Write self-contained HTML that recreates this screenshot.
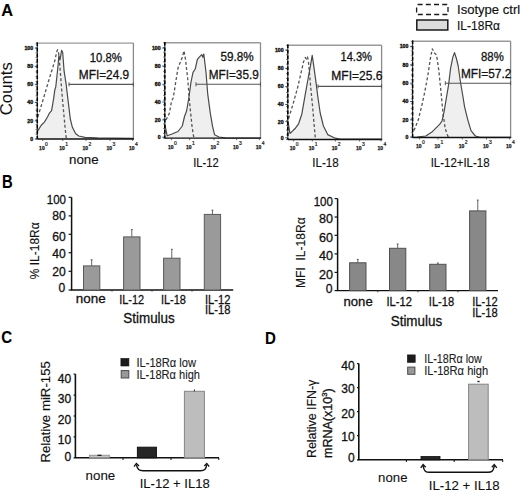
<!DOCTYPE html>
<html><head><meta charset="utf-8"><style>
html,body{margin:0;padding:0;background:#fff;}
svg{display:block;}
text{font-family:"Liberation Sans", sans-serif;stroke:#111;stroke-width:0.3px;}
</style></head><body>
<svg width="520" height="491" viewBox="0 0 520 491" font-family='"Liberation Sans", sans-serif'>
<rect width="520" height="491" fill="#fff"/>
<text x="1.2" y="16.3" font-size="17.3" font-weight="bold" fill="#000" textLength="11.8" lengthAdjust="spacingAndGlyphs" style="stroke-width:0.1px">A</text>
<text x="12.4" y="115.2" font-size="17" transform="rotate(-90 12.4 115.2)" fill="#111" style="stroke:none" textLength="53" lengthAdjust="spacingAndGlyphs">Counts</text>
<polygon points="37.5,131 38.1,130.4 41.2,125.2 44.4,122.1 47.5,117 49.6,112.8 51.6,110.7 53.7,98.2 54.8,89.9 55.8,86.8 57.9,67 58.9,55.6 60,59.8 61.6,50.4 62.7,52.5 64.1,71.2 66.2,84.7 68.3,102.4 70.3,119 72.4,127.3 75.5,133.6 78.7,136 84.9,137.3 97.4,137.9 133,138.3 133,139.0 37.5,139.0" fill="#efefef" stroke="none"/>
<line x1="37.3" y1="43.1" x2="133.4" y2="43.1" stroke="#9a9a9a" stroke-width="1.4" />
<line x1="133.4" y1="43.1" x2="133.4" y2="139.0" stroke="#8a8a8a" stroke-width="1.3" />
<polyline points="37.8,117 38.1,115.9 42.3,102.4 47.5,84.7 51.6,71.2 54.8,60.8 56.8,51.5 57.6,49.8 58.4,51 60,68 62,94 64.1,117 65.8,134.6 66.4,139" fill="none" stroke="#555" stroke-width="1.3" stroke-dasharray="3 2.2" stroke-linejoin="round"/>
<polyline points="37.5,131 38.1,130.4 41.2,125.2 44.4,122.1 47.5,117 49.6,112.8 51.6,110.7 53.7,98.2 54.8,89.9 55.8,86.8 57.9,67 58.9,55.6 60,59.8 61.6,50.4 62.7,52.5 64.1,71.2 66.2,84.7 68.3,102.4 70.3,119 72.4,127.3 75.5,133.6 78.7,136 84.9,137.3 97.4,137.9 133,138.3" fill="none" stroke="#4a4a4a" stroke-width="1.2" stroke-linejoin="round"/>
<line x1="37.3" y1="42.4" x2="37.3" y2="139.0" stroke="#333" stroke-width="1.1" />
<line x1="37.3" y1="42.4" x2="37.3" y2="139.0" stroke="#000" stroke-width="1.5" stroke-dasharray="3.5 2"/>
<line x1="37.3" y1="139.0" x2="134.0" y2="139.0" stroke="#111" stroke-width="1.3" />
<line x1="35.5" y1="43.1" x2="37.3" y2="43.1" stroke="#333" stroke-width="0.6" />
<line x1="35.5" y1="47.895" x2="37.3" y2="47.895" stroke="#333" stroke-width="0.6" />
<line x1="35.5" y1="52.69" x2="37.3" y2="52.69" stroke="#333" stroke-width="0.6" />
<line x1="35.5" y1="57.485" x2="37.3" y2="57.485" stroke="#333" stroke-width="0.6" />
<line x1="35.5" y1="62.28" x2="37.3" y2="62.28" stroke="#333" stroke-width="0.6" />
<line x1="35.5" y1="67.075" x2="37.3" y2="67.075" stroke="#333" stroke-width="0.6" />
<line x1="35.5" y1="71.87" x2="37.3" y2="71.87" stroke="#333" stroke-width="0.6" />
<line x1="35.5" y1="76.665" x2="37.3" y2="76.665" stroke="#333" stroke-width="0.6" />
<line x1="35.5" y1="81.46000000000001" x2="37.3" y2="81.46000000000001" stroke="#333" stroke-width="0.6" />
<line x1="35.5" y1="86.255" x2="37.3" y2="86.255" stroke="#333" stroke-width="0.6" />
<line x1="35.5" y1="91.05000000000001" x2="37.3" y2="91.05000000000001" stroke="#333" stroke-width="0.6" />
<line x1="35.5" y1="95.845" x2="37.3" y2="95.845" stroke="#333" stroke-width="0.6" />
<line x1="35.5" y1="100.64000000000001" x2="37.3" y2="100.64000000000001" stroke="#333" stroke-width="0.6" />
<line x1="35.5" y1="105.435" x2="37.3" y2="105.435" stroke="#333" stroke-width="0.6" />
<line x1="35.5" y1="110.23000000000002" x2="37.3" y2="110.23000000000002" stroke="#333" stroke-width="0.6" />
<line x1="35.5" y1="115.025" x2="37.3" y2="115.025" stroke="#333" stroke-width="0.6" />
<line x1="35.5" y1="119.82" x2="37.3" y2="119.82" stroke="#333" stroke-width="0.6" />
<line x1="35.5" y1="124.61500000000001" x2="37.3" y2="124.61500000000001" stroke="#333" stroke-width="0.6" />
<line x1="35.5" y1="129.41" x2="37.3" y2="129.41" stroke="#333" stroke-width="0.6" />
<line x1="35.5" y1="134.205" x2="37.3" y2="134.205" stroke="#333" stroke-width="0.6" />
<line x1="35.5" y1="139.0" x2="37.3" y2="139.0" stroke="#333" stroke-width="0.6" />
<line x1="34.8" y1="48.1" x2="37.3" y2="48.1" stroke="#222" stroke-width="0.8" />
<text x="33.099999999999994" y="49.9" font-size="5.2" text-anchor="end" font-weight="bold" fill="#222" style="stroke-width:0.35px">100</text>
<line x1="34.8" y1="66.3" x2="37.3" y2="66.3" stroke="#222" stroke-width="0.8" />
<text x="33.099999999999994" y="68.1" font-size="5.2" text-anchor="end" font-weight="bold" fill="#222" style="stroke-width:0.35px">80</text>
<line x1="34.8" y1="84.4" x2="37.3" y2="84.4" stroke="#222" stroke-width="0.8" />
<text x="33.099999999999994" y="86.2" font-size="5.2" text-anchor="end" font-weight="bold" fill="#222" style="stroke-width:0.35px">60</text>
<line x1="34.8" y1="102.5" x2="37.3" y2="102.5" stroke="#222" stroke-width="0.8" />
<text x="33.099999999999994" y="104.3" font-size="5.2" text-anchor="end" font-weight="bold" fill="#222" style="stroke-width:0.35px">40</text>
<line x1="34.8" y1="120.8" x2="37.3" y2="120.8" stroke="#222" stroke-width="0.8" />
<text x="33.099999999999994" y="122.6" font-size="5.2" text-anchor="end" font-weight="bold" fill="#222" style="stroke-width:0.35px">20</text>
<line x1="34.8" y1="139.0" x2="37.3" y2="139.0" stroke="#222" stroke-width="0.8" />
<text x="33.099999999999994" y="140.8" font-size="5.2" text-anchor="end" font-weight="bold" fill="#222" style="stroke-width:0.35px">0</text>
<line x1="42.7" y1="139.0" x2="42.7" y2="141.0" stroke="#333" stroke-width="0.7" />
<line x1="62.8" y1="139.0" x2="62.8" y2="141.0" stroke="#333" stroke-width="0.7" />
<line x1="86" y1="139.0" x2="86" y2="141.0" stroke="#333" stroke-width="0.7" />
<line x1="110" y1="139.0" x2="110" y2="141.0" stroke="#333" stroke-width="0.7" />
<line x1="132.6" y1="139.0" x2="132.6" y2="141.0" stroke="#333" stroke-width="0.7" />
<text x="39.1" y="149.8" font-size="5.4" font-weight="bold" fill="#222" textLength="5.6" lengthAdjust="spacingAndGlyphs" style="stroke-width:0.25px">10</text>
<text x="45.1" y="145.8" font-size="5" fill="#222" style="stroke-width:0.2px">0</text>
<text x="59.199999999999996" y="149.8" font-size="5.4" font-weight="bold" fill="#222" textLength="5.6" lengthAdjust="spacingAndGlyphs" style="stroke-width:0.25px">10</text>
<text x="65.2" y="145.8" font-size="5" fill="#222" style="stroke-width:0.2px">1</text>
<text x="82.4" y="149.8" font-size="5.4" font-weight="bold" fill="#222" textLength="5.6" lengthAdjust="spacingAndGlyphs" style="stroke-width:0.25px">10</text>
<text x="88.4" y="145.8" font-size="5" fill="#222" style="stroke-width:0.2px">2</text>
<text x="106.4" y="149.8" font-size="5.4" font-weight="bold" fill="#222" textLength="5.6" lengthAdjust="spacingAndGlyphs" style="stroke-width:0.25px">10</text>
<text x="112.4" y="145.8" font-size="5" fill="#222" style="stroke-width:0.2px">3</text>
<text x="129.0" y="149.8" font-size="5.4" font-weight="bold" fill="#222" textLength="5.6" lengthAdjust="spacingAndGlyphs" style="stroke-width:0.25px">10</text>
<text x="135.0" y="145.8" font-size="5" fill="#222" style="stroke-width:0.2px">4</text>
<line x1="69" y1="84.4" x2="133.4" y2="84.4" stroke="#555" stroke-width="1.1" />
<line x1="69" y1="82.4" x2="69" y2="86.4" stroke="#555" stroke-width="1.0" />
<line x1="133.4" y1="82.4" x2="133.4" y2="86.4" stroke="#555" stroke-width="1.0" />
<text x="89.8" y="61.5" font-size="12.8" fill="#111" textLength="32.1" lengthAdjust="spacingAndGlyphs" >10.8%</text>
<text x="78.8" y="78.8" font-size="12.8" fill="#111" textLength="50.4" lengthAdjust="spacingAndGlyphs" >MFI=24.9</text>
<text x="69" y="164.1" font-size="13.5" fill="#111" textLength="29.7" lengthAdjust="spacingAndGlyphs" style="stroke-width:0.15px">none</text>
<polygon points="165,125 167.2,135.8 172,134 178,131.5 182.3,126 184.5,116.5 186.6,111 188.8,98 191,82 193,72.3 195.2,69 197.4,59.4 199.5,56.8 201.7,54.6 202.8,57.2 203.8,54 206,72.3 207.7,93.8 210.3,113.2 212.5,126.2 214.6,134.8 219,137 225,137.9 260.5,138 260.5,138.2 165,138.2" fill="#efefef" stroke="none"/>
<line x1="164.8" y1="42.7" x2="260.5" y2="42.7" stroke="#9a9a9a" stroke-width="1.4" />
<line x1="260.5" y1="42.7" x2="260.5" y2="138.2" stroke="#8a8a8a" stroke-width="1.3" />
<polyline points="166,120 169.4,113.2 171.5,101.4 173.3,97.7 175.4,84.2 178,68 180.2,62.6 182.3,57.2 184,50.8 185.5,59.4 187.7,78.8 189.8,104.6 192,126.2 193.5,135.8 194,138" fill="none" stroke="#555" stroke-width="1.3" stroke-dasharray="3 2.2" stroke-linejoin="round"/>
<polyline points="165,125 167.2,135.8 172,134 178,131.5 182.3,126 184.5,116.5 186.6,111 188.8,98 191,82 193,72.3 195.2,69 197.4,59.4 199.5,56.8 201.7,54.6 202.8,57.2 203.8,54 206,72.3 207.7,93.8 210.3,113.2 212.5,126.2 214.6,134.8 219,137 225,137.9 260.5,138" fill="none" stroke="#4a4a4a" stroke-width="1.2" stroke-linejoin="round"/>
<line x1="164.8" y1="42.0" x2="164.8" y2="138.2" stroke="#333" stroke-width="1.1" />
<line x1="164.8" y1="42.0" x2="164.8" y2="138.2" stroke="#000" stroke-width="1.5" stroke-dasharray="3.5 2"/>
<line x1="164.8" y1="138.2" x2="261.1" y2="138.2" stroke="#111" stroke-width="1.3" />
<line x1="163.0" y1="42.7" x2="164.8" y2="42.7" stroke="#333" stroke-width="0.6" />
<line x1="163.0" y1="47.475" x2="164.8" y2="47.475" stroke="#333" stroke-width="0.6" />
<line x1="163.0" y1="52.25" x2="164.8" y2="52.25" stroke="#333" stroke-width="0.6" />
<line x1="163.0" y1="57.025" x2="164.8" y2="57.025" stroke="#333" stroke-width="0.6" />
<line x1="163.0" y1="61.8" x2="164.8" y2="61.8" stroke="#333" stroke-width="0.6" />
<line x1="163.0" y1="66.575" x2="164.8" y2="66.575" stroke="#333" stroke-width="0.6" />
<line x1="163.0" y1="71.35" x2="164.8" y2="71.35" stroke="#333" stroke-width="0.6" />
<line x1="163.0" y1="76.125" x2="164.8" y2="76.125" stroke="#333" stroke-width="0.6" />
<line x1="163.0" y1="80.9" x2="164.8" y2="80.9" stroke="#333" stroke-width="0.6" />
<line x1="163.0" y1="85.675" x2="164.8" y2="85.675" stroke="#333" stroke-width="0.6" />
<line x1="163.0" y1="90.44999999999999" x2="164.8" y2="90.44999999999999" stroke="#333" stroke-width="0.6" />
<line x1="163.0" y1="95.225" x2="164.8" y2="95.225" stroke="#333" stroke-width="0.6" />
<line x1="163.0" y1="100.0" x2="164.8" y2="100.0" stroke="#333" stroke-width="0.6" />
<line x1="163.0" y1="104.77499999999999" x2="164.8" y2="104.77499999999999" stroke="#333" stroke-width="0.6" />
<line x1="163.0" y1="109.55" x2="164.8" y2="109.55" stroke="#333" stroke-width="0.6" />
<line x1="163.0" y1="114.32499999999999" x2="164.8" y2="114.32499999999999" stroke="#333" stroke-width="0.6" />
<line x1="163.0" y1="119.1" x2="164.8" y2="119.1" stroke="#333" stroke-width="0.6" />
<line x1="163.0" y1="123.87499999999999" x2="164.8" y2="123.87499999999999" stroke="#333" stroke-width="0.6" />
<line x1="163.0" y1="128.64999999999998" x2="164.8" y2="128.64999999999998" stroke="#333" stroke-width="0.6" />
<line x1="163.0" y1="133.425" x2="164.8" y2="133.425" stroke="#333" stroke-width="0.6" />
<line x1="163.0" y1="138.2" x2="164.8" y2="138.2" stroke="#333" stroke-width="0.6" />
<line x1="162.3" y1="48.1" x2="164.8" y2="48.1" stroke="#222" stroke-width="0.8" />
<text x="160.60000000000002" y="49.9" font-size="5.2" text-anchor="end" font-weight="bold" fill="#222" style="stroke-width:0.35px">100</text>
<line x1="162.3" y1="66.1" x2="164.8" y2="66.1" stroke="#222" stroke-width="0.8" />
<text x="160.60000000000002" y="67.89999999999999" font-size="5.2" text-anchor="end" font-weight="bold" fill="#222" style="stroke-width:0.35px">80</text>
<line x1="162.3" y1="84.3" x2="164.8" y2="84.3" stroke="#222" stroke-width="0.8" />
<text x="160.60000000000002" y="86.1" font-size="5.2" text-anchor="end" font-weight="bold" fill="#222" style="stroke-width:0.35px">60</text>
<line x1="162.3" y1="102" x2="164.8" y2="102" stroke="#222" stroke-width="0.8" />
<text x="160.60000000000002" y="103.8" font-size="5.2" text-anchor="end" font-weight="bold" fill="#222" style="stroke-width:0.35px">40</text>
<line x1="162.3" y1="119.9" x2="164.8" y2="119.9" stroke="#222" stroke-width="0.8" />
<text x="160.60000000000002" y="121.7" font-size="5.2" text-anchor="end" font-weight="bold" fill="#222" style="stroke-width:0.35px">20</text>
<line x1="162.3" y1="137.2" x2="164.8" y2="137.2" stroke="#222" stroke-width="0.8" />
<text x="160.60000000000002" y="139.0" font-size="5.2" text-anchor="end" font-weight="bold" fill="#222" style="stroke-width:0.35px">0</text>
<line x1="171.6" y1="138.2" x2="171.6" y2="140.2" stroke="#333" stroke-width="0.7" />
<line x1="189.6" y1="138.2" x2="189.6" y2="140.2" stroke="#333" stroke-width="0.7" />
<line x1="214" y1="138.2" x2="214" y2="140.2" stroke="#333" stroke-width="0.7" />
<line x1="236.6" y1="138.2" x2="236.6" y2="140.2" stroke="#333" stroke-width="0.7" />
<line x1="259.4" y1="138.2" x2="259.4" y2="140.2" stroke="#333" stroke-width="0.7" />
<text x="168.0" y="149.0" font-size="5.4" font-weight="bold" fill="#222" textLength="5.6" lengthAdjust="spacingAndGlyphs" style="stroke-width:0.25px">10</text>
<text x="174.0" y="145.0" font-size="5" fill="#222" style="stroke-width:0.2px">0</text>
<text x="186.0" y="149.0" font-size="5.4" font-weight="bold" fill="#222" textLength="5.6" lengthAdjust="spacingAndGlyphs" style="stroke-width:0.25px">10</text>
<text x="192.0" y="145.0" font-size="5" fill="#222" style="stroke-width:0.2px">1</text>
<text x="210.4" y="149.0" font-size="5.4" font-weight="bold" fill="#222" textLength="5.6" lengthAdjust="spacingAndGlyphs" style="stroke-width:0.25px">10</text>
<text x="216.4" y="145.0" font-size="5" fill="#222" style="stroke-width:0.2px">2</text>
<text x="233.0" y="149.0" font-size="5.4" font-weight="bold" fill="#222" textLength="5.6" lengthAdjust="spacingAndGlyphs" style="stroke-width:0.25px">10</text>
<text x="239.0" y="145.0" font-size="5" fill="#222" style="stroke-width:0.2px">3</text>
<text x="255.79999999999998" y="149.0" font-size="5.4" font-weight="bold" fill="#222" textLength="5.6" lengthAdjust="spacingAndGlyphs" style="stroke-width:0.25px">10</text>
<text x="261.79999999999995" y="145.0" font-size="5" fill="#222" style="stroke-width:0.2px">4</text>
<line x1="196" y1="84.3" x2="260.5" y2="84.3" stroke="#555" stroke-width="1.1" />
<line x1="196" y1="82.3" x2="196" y2="86.3" stroke="#555" stroke-width="1.0" />
<line x1="260.5" y1="82.3" x2="260.5" y2="86.3" stroke="#555" stroke-width="1.0" />
<text x="220.5" y="61.25" font-size="12.8" fill="#111" textLength="33.2" lengthAdjust="spacingAndGlyphs" >59.8%</text>
<text x="208.75" y="78.75" font-size="12.8" fill="#111" textLength="50" lengthAdjust="spacingAndGlyphs" >MFI=35.9</text>
<text x="193.2" y="166.6" font-size="12.6" fill="#111" textLength="25.5" lengthAdjust="spacingAndGlyphs" style="stroke-width:0.15px">IL-12</text>
<polygon points="288,121.7 290,133.5 293.2,130.3 295.4,128.2 298.6,123.8 301.8,114.2 305,95.8 308.3,77.5 310.5,65.7 312.2,55.4 313.7,65.7 315.8,80.8 318,98 320.2,113 323.4,126 327.7,134.6 334.2,137.8 340,139 381.6,139.2 381.6,139.5 288,139.5" fill="#efefef" stroke="none"/>
<line x1="287.8" y1="45.3" x2="381.6" y2="45.3" stroke="#9a9a9a" stroke-width="1.4" />
<line x1="381.6" y1="45.3" x2="381.6" y2="139.5" stroke="#8a8a8a" stroke-width="1.3" />
<polyline points="288.6,118.5 293.2,103.5 297.5,88 300.8,74 303.5,62 305.3,57.5 306.4,59 307.5,56.8 308.5,62 310.5,85 312.6,106.6 314.8,132.5 315.4,139" fill="none" stroke="#555" stroke-width="1.3" stroke-dasharray="3 2.2" stroke-linejoin="round"/>
<polyline points="288,121.7 290,133.5 293.2,130.3 295.4,128.2 298.6,123.8 301.8,114.2 305,95.8 308.3,77.5 310.5,65.7 312.2,55.4 313.7,65.7 315.8,80.8 318,98 320.2,113 323.4,126 327.7,134.6 334.2,137.8 340,139 381.6,139.2" fill="none" stroke="#4a4a4a" stroke-width="1.2" stroke-linejoin="round"/>
<line x1="287.8" y1="44.599999999999994" x2="287.8" y2="139.5" stroke="#333" stroke-width="1.1" />
<line x1="287.8" y1="44.599999999999994" x2="287.8" y2="139.5" stroke="#000" stroke-width="1.5" stroke-dasharray="3.5 2"/>
<line x1="287.8" y1="139.5" x2="382.20000000000005" y2="139.5" stroke="#111" stroke-width="1.3" />
<line x1="286.0" y1="45.3" x2="287.8" y2="45.3" stroke="#333" stroke-width="0.6" />
<line x1="286.0" y1="50.01" x2="287.8" y2="50.01" stroke="#333" stroke-width="0.6" />
<line x1="286.0" y1="54.72" x2="287.8" y2="54.72" stroke="#333" stroke-width="0.6" />
<line x1="286.0" y1="59.43" x2="287.8" y2="59.43" stroke="#333" stroke-width="0.6" />
<line x1="286.0" y1="64.14" x2="287.8" y2="64.14" stroke="#333" stroke-width="0.6" />
<line x1="286.0" y1="68.85" x2="287.8" y2="68.85" stroke="#333" stroke-width="0.6" />
<line x1="286.0" y1="73.56" x2="287.8" y2="73.56" stroke="#333" stroke-width="0.6" />
<line x1="286.0" y1="78.27" x2="287.8" y2="78.27" stroke="#333" stroke-width="0.6" />
<line x1="286.0" y1="82.97999999999999" x2="287.8" y2="82.97999999999999" stroke="#333" stroke-width="0.6" />
<line x1="286.0" y1="87.69" x2="287.8" y2="87.69" stroke="#333" stroke-width="0.6" />
<line x1="286.0" y1="92.4" x2="287.8" y2="92.4" stroke="#333" stroke-width="0.6" />
<line x1="286.0" y1="97.11" x2="287.8" y2="97.11" stroke="#333" stroke-width="0.6" />
<line x1="286.0" y1="101.82" x2="287.8" y2="101.82" stroke="#333" stroke-width="0.6" />
<line x1="286.0" y1="106.53" x2="287.8" y2="106.53" stroke="#333" stroke-width="0.6" />
<line x1="286.0" y1="111.24" x2="287.8" y2="111.24" stroke="#333" stroke-width="0.6" />
<line x1="286.0" y1="115.95" x2="287.8" y2="115.95" stroke="#333" stroke-width="0.6" />
<line x1="286.0" y1="120.66" x2="287.8" y2="120.66" stroke="#333" stroke-width="0.6" />
<line x1="286.0" y1="125.37" x2="287.8" y2="125.37" stroke="#333" stroke-width="0.6" />
<line x1="286.0" y1="130.07999999999998" x2="287.8" y2="130.07999999999998" stroke="#333" stroke-width="0.6" />
<line x1="286.0" y1="134.79" x2="287.8" y2="134.79" stroke="#333" stroke-width="0.6" />
<line x1="286.0" y1="139.5" x2="287.8" y2="139.5" stroke="#333" stroke-width="0.6" />
<line x1="285.3" y1="50.2" x2="287.8" y2="50.2" stroke="#222" stroke-width="0.8" />
<text x="283.6" y="52.0" font-size="5.2" text-anchor="end" font-weight="bold" fill="#222" style="stroke-width:0.35px">100</text>
<line x1="285.3" y1="68.3" x2="287.8" y2="68.3" stroke="#222" stroke-width="0.8" />
<text x="283.6" y="70.1" font-size="5.2" text-anchor="end" font-weight="bold" fill="#222" style="stroke-width:0.35px">80</text>
<line x1="285.3" y1="86.6" x2="287.8" y2="86.6" stroke="#222" stroke-width="0.8" />
<text x="283.6" y="88.39999999999999" font-size="5.2" text-anchor="end" font-weight="bold" fill="#222" style="stroke-width:0.35px">60</text>
<line x1="285.3" y1="104.5" x2="287.8" y2="104.5" stroke="#222" stroke-width="0.8" />
<text x="283.6" y="106.3" font-size="5.2" text-anchor="end" font-weight="bold" fill="#222" style="stroke-width:0.35px">40</text>
<line x1="285.3" y1="121.7" x2="287.8" y2="121.7" stroke="#222" stroke-width="0.8" />
<text x="283.6" y="123.5" font-size="5.2" text-anchor="end" font-weight="bold" fill="#222" style="stroke-width:0.35px">20</text>
<line x1="285.3" y1="137.8" x2="287.8" y2="137.8" stroke="#222" stroke-width="0.8" />
<text x="283.6" y="139.60000000000002" font-size="5.2" text-anchor="end" font-weight="bold" fill="#222" style="stroke-width:0.35px">0</text>
<line x1="293.4" y1="139.5" x2="293.4" y2="141.5" stroke="#333" stroke-width="0.7" />
<line x1="312.3" y1="139.5" x2="312.3" y2="141.5" stroke="#333" stroke-width="0.7" />
<line x1="335.4" y1="139.5" x2="335.4" y2="141.5" stroke="#333" stroke-width="0.7" />
<line x1="359.6" y1="139.5" x2="359.6" y2="141.5" stroke="#333" stroke-width="0.7" />
<line x1="381" y1="139.5" x2="381" y2="141.5" stroke="#333" stroke-width="0.7" />
<text x="289.79999999999995" y="150.3" font-size="5.4" font-weight="bold" fill="#222" textLength="5.6" lengthAdjust="spacingAndGlyphs" style="stroke-width:0.25px">10</text>
<text x="295.79999999999995" y="146.3" font-size="5" fill="#222" style="stroke-width:0.2px">0</text>
<text x="308.7" y="150.3" font-size="5.4" font-weight="bold" fill="#222" textLength="5.6" lengthAdjust="spacingAndGlyphs" style="stroke-width:0.25px">10</text>
<text x="314.7" y="146.3" font-size="5" fill="#222" style="stroke-width:0.2px">1</text>
<text x="331.79999999999995" y="150.3" font-size="5.4" font-weight="bold" fill="#222" textLength="5.6" lengthAdjust="spacingAndGlyphs" style="stroke-width:0.25px">10</text>
<text x="337.79999999999995" y="146.3" font-size="5" fill="#222" style="stroke-width:0.2px">2</text>
<text x="356.0" y="150.3" font-size="5.4" font-weight="bold" fill="#222" textLength="5.6" lengthAdjust="spacingAndGlyphs" style="stroke-width:0.25px">10</text>
<text x="362.0" y="146.3" font-size="5" fill="#222" style="stroke-width:0.2px">3</text>
<text x="377.4" y="150.3" font-size="5.4" font-weight="bold" fill="#222" textLength="5.6" lengthAdjust="spacingAndGlyphs" style="stroke-width:0.25px">10</text>
<text x="383.4" y="146.3" font-size="5" fill="#222" style="stroke-width:0.2px">4</text>
<line x1="318" y1="86.4" x2="381.6" y2="86.4" stroke="#555" stroke-width="1.1" />
<line x1="318" y1="84.4" x2="318" y2="88.4" stroke="#555" stroke-width="1.0" />
<line x1="381.6" y1="84.4" x2="381.6" y2="88.4" stroke="#555" stroke-width="1.0" />
<text x="340.5" y="61.25" font-size="12.8" fill="#111" textLength="31.5" lengthAdjust="spacingAndGlyphs" >14.3%</text>
<text x="331.25" y="80" font-size="12.8" fill="#111" textLength="51.2" lengthAdjust="spacingAndGlyphs" >MFI=25.6</text>
<text x="312.3" y="166.8" font-size="12.6" fill="#111" textLength="26.5" lengthAdjust="spacingAndGlyphs" style="stroke-width:0.15px">IL-18</text>
<polygon points="412.6,137.3 417.2,137 425.8,136 432.3,131.7 436.6,127.4 439.8,124.2 442,121 444.2,111.2 446.3,98.3 448.5,85.4 450.6,68.2 452.8,57.4 454.5,52.6 456.4,58.5 458.2,66 460.3,81 462.5,94 464.6,106.9 467.8,119.8 471,130.6 475.4,136 480,137.3 510.5,137.3 510.5,137.5 412.6,137.5" fill="#efefef" stroke="none"/>
<line x1="412.6" y1="41.3" x2="510.6" y2="41.3" stroke="#9a9a9a" stroke-width="1.4" />
<line x1="510.6" y1="41.3" x2="510.6" y2="137.5" stroke="#8a8a8a" stroke-width="1.3" />
<polyline points="414,130.6 418.3,119.8 421.5,106.9 424.8,91.8 428,74.6 430.2,59.5 432.3,48.8 434.5,53 436.6,55.2 438.8,70.3 441,91.8 443,113.4 445.2,128.5 447.4,135 448.5,137.3" fill="none" stroke="#555" stroke-width="1.3" stroke-dasharray="3 2.2" stroke-linejoin="round"/>
<polyline points="412.6,137.3 417.2,137 425.8,136 432.3,131.7 436.6,127.4 439.8,124.2 442,121 444.2,111.2 446.3,98.3 448.5,85.4 450.6,68.2 452.8,57.4 454.5,52.6 456.4,58.5 458.2,66 460.3,81 462.5,94 464.6,106.9 467.8,119.8 471,130.6 475.4,136 480,137.3 510.5,137.3" fill="none" stroke="#4a4a4a" stroke-width="1.2" stroke-linejoin="round"/>
<line x1="412.6" y1="40.599999999999994" x2="412.6" y2="137.5" stroke="#333" stroke-width="1.1" />
<line x1="412.6" y1="40.599999999999994" x2="412.6" y2="137.5" stroke="#000" stroke-width="1.5" stroke-dasharray="3.5 2"/>
<line x1="412.6" y1="137.5" x2="511.20000000000005" y2="137.5" stroke="#111" stroke-width="1.3" />
<line x1="410.8" y1="41.3" x2="412.6" y2="41.3" stroke="#333" stroke-width="0.6" />
<line x1="410.8" y1="46.11" x2="412.6" y2="46.11" stroke="#333" stroke-width="0.6" />
<line x1="410.8" y1="50.92" x2="412.6" y2="50.92" stroke="#333" stroke-width="0.6" />
<line x1="410.8" y1="55.73" x2="412.6" y2="55.73" stroke="#333" stroke-width="0.6" />
<line x1="410.8" y1="60.54" x2="412.6" y2="60.54" stroke="#333" stroke-width="0.6" />
<line x1="410.8" y1="65.35" x2="412.6" y2="65.35" stroke="#333" stroke-width="0.6" />
<line x1="410.8" y1="70.16" x2="412.6" y2="70.16" stroke="#333" stroke-width="0.6" />
<line x1="410.8" y1="74.97" x2="412.6" y2="74.97" stroke="#333" stroke-width="0.6" />
<line x1="410.8" y1="79.78" x2="412.6" y2="79.78" stroke="#333" stroke-width="0.6" />
<line x1="410.8" y1="84.59" x2="412.6" y2="84.59" stroke="#333" stroke-width="0.6" />
<line x1="410.8" y1="89.4" x2="412.6" y2="89.4" stroke="#333" stroke-width="0.6" />
<line x1="410.8" y1="94.21000000000001" x2="412.6" y2="94.21000000000001" stroke="#333" stroke-width="0.6" />
<line x1="410.8" y1="99.02000000000001" x2="412.6" y2="99.02000000000001" stroke="#333" stroke-width="0.6" />
<line x1="410.8" y1="103.83000000000001" x2="412.6" y2="103.83000000000001" stroke="#333" stroke-width="0.6" />
<line x1="410.8" y1="108.64" x2="412.6" y2="108.64" stroke="#333" stroke-width="0.6" />
<line x1="410.8" y1="113.45" x2="412.6" y2="113.45" stroke="#333" stroke-width="0.6" />
<line x1="410.8" y1="118.26" x2="412.6" y2="118.26" stroke="#333" stroke-width="0.6" />
<line x1="410.8" y1="123.07000000000001" x2="412.6" y2="123.07000000000001" stroke="#333" stroke-width="0.6" />
<line x1="410.8" y1="127.88000000000001" x2="412.6" y2="127.88000000000001" stroke="#333" stroke-width="0.6" />
<line x1="410.8" y1="132.69" x2="412.6" y2="132.69" stroke="#333" stroke-width="0.6" />
<line x1="410.8" y1="137.5" x2="412.6" y2="137.5" stroke="#333" stroke-width="0.6" />
<line x1="410.1" y1="46.6" x2="412.6" y2="46.6" stroke="#222" stroke-width="0.8" />
<text x="408.40000000000003" y="48.4" font-size="5.2" text-anchor="end" font-weight="bold" fill="#222" style="stroke-width:0.35px">100</text>
<line x1="410.1" y1="64.9" x2="412.6" y2="64.9" stroke="#222" stroke-width="0.8" />
<text x="408.40000000000003" y="66.7" font-size="5.2" text-anchor="end" font-weight="bold" fill="#222" style="stroke-width:0.35px">80</text>
<line x1="410.1" y1="83.2" x2="412.6" y2="83.2" stroke="#222" stroke-width="0.8" />
<text x="408.40000000000003" y="85.0" font-size="5.2" text-anchor="end" font-weight="bold" fill="#222" style="stroke-width:0.35px">60</text>
<line x1="410.1" y1="101.5" x2="412.6" y2="101.5" stroke="#222" stroke-width="0.8" />
<text x="408.40000000000003" y="103.3" font-size="5.2" text-anchor="end" font-weight="bold" fill="#222" style="stroke-width:0.35px">40</text>
<line x1="410.1" y1="119.8" x2="412.6" y2="119.8" stroke="#222" stroke-width="0.8" />
<text x="408.40000000000003" y="121.6" font-size="5.2" text-anchor="end" font-weight="bold" fill="#222" style="stroke-width:0.35px">20</text>
<line x1="410.1" y1="137.0" x2="412.6" y2="137.0" stroke="#222" stroke-width="0.8" />
<text x="408.40000000000003" y="138.8" font-size="5.2" text-anchor="end" font-weight="bold" fill="#222" style="stroke-width:0.35px">0</text>
<line x1="419.6" y1="137.5" x2="419.6" y2="139.5" stroke="#333" stroke-width="0.7" />
<line x1="438" y1="137.5" x2="438" y2="139.5" stroke="#333" stroke-width="0.7" />
<line x1="462.3" y1="137.5" x2="462.3" y2="139.5" stroke="#333" stroke-width="0.7" />
<line x1="486.5" y1="137.5" x2="486.5" y2="139.5" stroke="#333" stroke-width="0.7" />
<line x1="509.6" y1="137.5" x2="509.6" y2="139.5" stroke="#333" stroke-width="0.7" />
<text x="416.0" y="148.3" font-size="5.4" font-weight="bold" fill="#222" textLength="5.6" lengthAdjust="spacingAndGlyphs" style="stroke-width:0.25px">10</text>
<text x="422.0" y="144.3" font-size="5" fill="#222" style="stroke-width:0.2px">0</text>
<text x="434.4" y="148.3" font-size="5.4" font-weight="bold" fill="#222" textLength="5.6" lengthAdjust="spacingAndGlyphs" style="stroke-width:0.25px">10</text>
<text x="440.4" y="144.3" font-size="5" fill="#222" style="stroke-width:0.2px">1</text>
<text x="458.7" y="148.3" font-size="5.4" font-weight="bold" fill="#222" textLength="5.6" lengthAdjust="spacingAndGlyphs" style="stroke-width:0.25px">10</text>
<text x="464.7" y="144.3" font-size="5" fill="#222" style="stroke-width:0.2px">2</text>
<text x="482.9" y="148.3" font-size="5.4" font-weight="bold" fill="#222" textLength="5.6" lengthAdjust="spacingAndGlyphs" style="stroke-width:0.25px">10</text>
<text x="488.9" y="144.3" font-size="5" fill="#222" style="stroke-width:0.2px">3</text>
<text x="506.0" y="148.3" font-size="5.4" font-weight="bold" fill="#222" textLength="5.6" lengthAdjust="spacingAndGlyphs" style="stroke-width:0.25px">10</text>
<text x="512.0" y="144.3" font-size="5" fill="#222" style="stroke-width:0.2px">4</text>
<line x1="445.3" y1="83.2" x2="510.6" y2="83.2" stroke="#555" stroke-width="1.1" />
<line x1="445.3" y1="81.2" x2="445.3" y2="85.2" stroke="#555" stroke-width="1.0" />
<line x1="510.6" y1="81.2" x2="510.6" y2="85.2" stroke="#555" stroke-width="1.0" />
<text x="481" y="60.6" font-size="12.8" fill="#111" textLength="22.75" lengthAdjust="spacingAndGlyphs" >88%</text>
<text x="461" y="77.75" font-size="12.8" fill="#111" textLength="50.25" lengthAdjust="spacingAndGlyphs" >MFI=57.2</text>
<text x="430.7" y="166.9" font-size="12.6" fill="#111" textLength="58.8" lengthAdjust="spacingAndGlyphs" style="stroke-width:0.15px">IL-12+IL-18</text>
<rect x="416.6" y="4.5" width="31.4" height="10" fill="none" stroke="#1a1a1a" stroke-width="1.3" stroke-dasharray="5 3.2" stroke-dashoffset="-1"/>
<rect x="416.8" y="20" width="31" height="10" fill="#dcdcdc" stroke="#1a1a1a" stroke-width="1.5"/>
<text x="457" y="14.4" font-size="12.5" fill="#111" textLength="63.2" lengthAdjust="spacingAndGlyphs" style="stroke-width:0.15px">Isotype ctrl</text>
<text x="457" y="30.3" font-size="12.5" fill="#111" textLength="43" lengthAdjust="spacingAndGlyphs" style="stroke-width:0.15px">IL-18R&#945;</text>
<text x="1.9" y="187.7" font-size="17.5" font-weight="bold" fill="#000" textLength="10.7" lengthAdjust="spacingAndGlyphs" style="stroke-width:0.1px">B</text>
<line x1="71.6" y1="197.3" x2="71.6" y2="290" stroke="#111" stroke-width="1.5" />
<line x1="70.8" y1="290" x2="233.2" y2="290" stroke="#111" stroke-width="1.4" />
<line x1="68.6" y1="197.3" x2="71.6" y2="197.3" stroke="#111" stroke-width="1.2" />
<line x1="68.6" y1="215.9" x2="71.6" y2="215.9" stroke="#111" stroke-width="1.2" />
<line x1="68.6" y1="234.3" x2="71.6" y2="234.3" stroke="#111" stroke-width="1.2" />
<line x1="68.6" y1="252.7" x2="71.6" y2="252.7" stroke="#111" stroke-width="1.2" />
<line x1="68.6" y1="271.3" x2="71.6" y2="271.3" stroke="#111" stroke-width="1.2" />
<line x1="68.6" y1="290" x2="71.6" y2="290" stroke="#111" stroke-width="1.2" />
<line x1="91.65" y1="259.8" x2="91.65" y2="265.9" stroke="#555" stroke-width="0.9" />
<line x1="90.75" y1="259.8" x2="92.55000000000001" y2="259.8" stroke="#555" stroke-width="1" />
<rect x="83.5" y="265.9" width="16.3" height="24.100000000000023" fill="#9a9a9a" stroke="#5a5a5a" stroke-width="1"/>
<line x1="131.79999999999998" y1="229.6" x2="131.79999999999998" y2="236.9" stroke="#555" stroke-width="0.9" />
<line x1="130.89999999999998" y1="229.6" x2="132.7" y2="229.6" stroke="#555" stroke-width="1" />
<rect x="123.6" y="236.9" width="16.4" height="53.099999999999994" fill="#9a9a9a" stroke="#5a5a5a" stroke-width="1"/>
<line x1="171.79999999999998" y1="249.3" x2="171.79999999999998" y2="258.2" stroke="#555" stroke-width="0.9" />
<line x1="170.89999999999998" y1="249.3" x2="172.7" y2="249.3" stroke="#555" stroke-width="1" />
<rect x="163.6" y="258.2" width="16.4" height="31.80000000000001" fill="#9a9a9a" stroke="#5a5a5a" stroke-width="1"/>
<line x1="212.45000000000002" y1="210.2" x2="212.45000000000002" y2="214.4" stroke="#555" stroke-width="0.9" />
<line x1="211.55" y1="210.2" x2="213.35000000000002" y2="210.2" stroke="#555" stroke-width="1" />
<rect x="204.3" y="214.4" width="16.3" height="75.6" fill="#9a9a9a" stroke="#5a5a5a" stroke-width="1"/>
<text x="66" y="204.4" font-size="12.5" text-anchor="end" fill="#111" textLength="19.2" lengthAdjust="spacingAndGlyphs" >100</text>
<text x="65.8" y="219.9" font-size="12.5" text-anchor="end" fill="#111" textLength="13.5" lengthAdjust="spacingAndGlyphs" >80</text>
<text x="65.8" y="241.3" font-size="12.5" text-anchor="end" fill="#111" textLength="13.5" lengthAdjust="spacingAndGlyphs" >60</text>
<text x="65.8" y="257.9" font-size="12.5" text-anchor="end" fill="#111" textLength="13.5" lengthAdjust="spacingAndGlyphs" >40</text>
<text x="65.8" y="276" font-size="12.5" text-anchor="end" fill="#111" textLength="13.5" lengthAdjust="spacingAndGlyphs" >20</text>
<text x="65.2" y="291.6" font-size="12.5" text-anchor="end" fill="#111" textLength="6.7" lengthAdjust="spacingAndGlyphs" >0</text>
<text x="75.8" y="303.2" font-size="12.8" fill="#111" textLength="29.9" lengthAdjust="spacingAndGlyphs" >none</text>
<text x="119.2" y="303.5" font-size="12.8" fill="#111" textLength="25" lengthAdjust="spacingAndGlyphs" >IL-12</text>
<text x="160.9" y="303.5" font-size="12.8" fill="#111" textLength="25.1" lengthAdjust="spacingAndGlyphs" >IL-18</text>
<text x="205" y="303.5" font-size="12.8" fill="#111" textLength="25.5" lengthAdjust="spacingAndGlyphs" >IL-12</text>
<text x="205" y="313.8" font-size="12.8" fill="#111" textLength="25.5" lengthAdjust="spacingAndGlyphs" >IL-18</text>
<text x="123.3" y="323.2" font-size="14.3" fill="#111" textLength="51.5" lengthAdjust="spacingAndGlyphs" >Stimulus</text>
<text x="38.6" y="279.3" font-size="12.6" transform="rotate(-90 38.6 279.3)" style="stroke-width:0.15px" fill="#111" textLength="57" lengthAdjust="spacingAndGlyphs">% IL-18R&#945;</text>
<line x1="112" y1="290" x2="112" y2="291.6" stroke="#333" stroke-width="1" />
<line x1="152" y1="290" x2="152" y2="291.6" stroke="#333" stroke-width="1" />
<line x1="192" y1="290" x2="192" y2="291.6" stroke="#333" stroke-width="1" />
<line x1="337.6" y1="198.6" x2="337.6" y2="290.6" stroke="#111" stroke-width="1.5" />
<line x1="336.8" y1="290.6" x2="498" y2="290.6" stroke="#111" stroke-width="1.4" />
<line x1="334.6" y1="198.6" x2="337.6" y2="198.6" stroke="#111" stroke-width="1.2" />
<line x1="334.6" y1="217" x2="337.6" y2="217" stroke="#111" stroke-width="1.2" />
<line x1="334.6" y1="235.3" x2="337.6" y2="235.3" stroke="#111" stroke-width="1.2" />
<line x1="334.6" y1="253.9" x2="337.6" y2="253.9" stroke="#111" stroke-width="1.2" />
<line x1="334.6" y1="272.4" x2="337.6" y2="272.4" stroke="#111" stroke-width="1.2" />
<line x1="334.6" y1="290.6" x2="337.6" y2="290.6" stroke="#111" stroke-width="1.2" />
<line x1="357.8" y1="259.4" x2="357.8" y2="262.8" stroke="#555" stroke-width="0.9" />
<line x1="356.90000000000003" y1="259.4" x2="358.7" y2="259.4" stroke="#555" stroke-width="1" />
<rect x="349.6" y="262.8" width="16.4" height="27.80000000000001" fill="#888888" stroke="#505050" stroke-width="1"/>
<line x1="397.65" y1="244" x2="397.65" y2="248.3" stroke="#555" stroke-width="0.9" />
<line x1="396.75" y1="244" x2="398.54999999999995" y2="244" stroke="#555" stroke-width="1" />
<rect x="389.5" y="248.3" width="16.3" height="42.30000000000001" fill="#888888" stroke="#505050" stroke-width="1"/>
<line x1="437.84999999999997" y1="263" x2="437.84999999999997" y2="264.3" stroke="#555" stroke-width="0.9" />
<line x1="436.95" y1="263" x2="438.74999999999994" y2="263" stroke="#555" stroke-width="1" />
<rect x="429.7" y="264.3" width="16.3" height="26.30000000000001" fill="#888888" stroke="#505050" stroke-width="1"/>
<line x1="477.75" y1="200.1" x2="477.75" y2="210.9" stroke="#555" stroke-width="0.9" />
<line x1="476.85" y1="200.1" x2="478.65" y2="200.1" stroke="#555" stroke-width="1" />
<rect x="469.6" y="210.9" width="16.3" height="79.70000000000002" fill="#888888" stroke="#505050" stroke-width="1"/>
<text x="333" y="205.9" font-size="12.5" text-anchor="end" fill="#111" textLength="19.3" lengthAdjust="spacingAndGlyphs" >100</text>
<text x="333" y="223" font-size="12.5" text-anchor="end" fill="#111" textLength="14" lengthAdjust="spacingAndGlyphs" >80</text>
<text x="333" y="241.5" font-size="12.5" text-anchor="end" fill="#111" textLength="14" lengthAdjust="spacingAndGlyphs" >60</text>
<text x="333" y="260" font-size="12.5" text-anchor="end" fill="#111" textLength="14" lengthAdjust="spacingAndGlyphs" >40</text>
<text x="333" y="278.5" font-size="12.5" text-anchor="end" fill="#111" textLength="14" lengthAdjust="spacingAndGlyphs" >20</text>
<text x="332.5" y="293" font-size="12.5" text-anchor="end" fill="#111" textLength="6.8" lengthAdjust="spacingAndGlyphs" >0</text>
<text x="343.5" y="305.7" font-size="12.8" fill="#111" textLength="29.2" lengthAdjust="spacingAndGlyphs" >none</text>
<text x="386.5" y="306" font-size="12.8" fill="#111" textLength="25.4" lengthAdjust="spacingAndGlyphs" >IL-12</text>
<text x="428.8" y="306" font-size="12.8" fill="#111" textLength="25.4" lengthAdjust="spacingAndGlyphs" >IL-18</text>
<text x="472.2" y="306" font-size="12.8" fill="#111" textLength="25.4" lengthAdjust="spacingAndGlyphs" >IL-12</text>
<text x="472.2" y="316.5" font-size="12.8" fill="#111" textLength="25.4" lengthAdjust="spacingAndGlyphs" >IL-18</text>
<text x="390.7" y="326.2" font-size="14.3" fill="#111" textLength="51.5" lengthAdjust="spacingAndGlyphs" >Stimulus</text>
<text x="304.5" y="288" font-size="12.6" transform="rotate(-90 304.5 288)" style="stroke-width:0.15px" fill="#111" textLength="70.6" lengthAdjust="spacingAndGlyphs">MFI&#160;&#160;IL-18R&#945;</text>
<line x1="377.8" y1="290.6" x2="377.8" y2="292.2" stroke="#333" stroke-width="1" />
<line x1="418" y1="290.6" x2="418" y2="292.2" stroke="#333" stroke-width="1" />
<line x1="458" y1="290.6" x2="458" y2="292.2" stroke="#333" stroke-width="1" />
<text x="1.3" y="343.4" font-size="17.3" font-weight="bold" fill="#000" textLength="10.9" lengthAdjust="spacingAndGlyphs" style="stroke-width:0.1px">C</text>
<line x1="75.4" y1="374.1" x2="75.4" y2="457.8" stroke="#111" stroke-width="1.6" />
<line x1="74.6" y1="457.8" x2="219" y2="457.8" stroke="#111" stroke-width="1.6" />
<line x1="73.6" y1="374.1" x2="75.4" y2="374.1" stroke="#111" stroke-width="1.2" />
<line x1="73.6" y1="395.1" x2="75.4" y2="395.1" stroke="#111" stroke-width="1.2" />
<line x1="73.6" y1="416" x2="75.4" y2="416" stroke="#111" stroke-width="1.2" />
<line x1="73.6" y1="436.9" x2="75.4" y2="436.9" stroke="#111" stroke-width="1.2" />
<line x1="73.6" y1="457.8" x2="75.4" y2="457.8" stroke="#111" stroke-width="1.2" />
<line x1="123" y1="457.8" x2="123" y2="460" stroke="#111" stroke-width="1" />
<line x1="171" y1="457.8" x2="171" y2="460" stroke="#111" stroke-width="1" />
<line x1="218.8" y1="457.8" x2="218.8" y2="460" stroke="#111" stroke-width="1" />
<text x="71.2" y="382.7" font-size="12.2" text-anchor="end" fill="#111" textLength="13.4" lengthAdjust="spacingAndGlyphs" >40</text>
<text x="71.2" y="403" font-size="12.2" text-anchor="end" fill="#111" textLength="13.4" lengthAdjust="spacingAndGlyphs" >30</text>
<text x="71.2" y="423.8" font-size="12.2" text-anchor="end" fill="#111" textLength="13.4" lengthAdjust="spacingAndGlyphs" >20</text>
<text x="71.2" y="443.5" font-size="12.2" text-anchor="end" fill="#111" textLength="13.4" lengthAdjust="spacingAndGlyphs" >10</text>
<text x="71.2" y="461" font-size="12.2" text-anchor="end" fill="#111" textLength="6.7" lengthAdjust="spacingAndGlyphs" >0</text>
<rect x="89.4" y="455.2" width="20" height="2.6" fill="#c4c4c4" stroke="#888" stroke-width="0.8"/>
<line x1="97.5" y1="455.3" x2="101.5" y2="455.3" stroke="#111" stroke-width="1.2" />
<rect x="137.4" y="447.2" width="19" height="10.6" fill="#262626" stroke="#111" stroke-width="1"/>
<rect x="184.4" y="391.3" width="20" height="66.5" fill="#bdbdbd" stroke="#858585" stroke-width="1"/>
<line x1="194.4" y1="389.5" x2="194.4" y2="391.3" stroke="#222" stroke-width="1" />
<rect x="120.9" y="358.4" width="8" height="7.6" fill="#1c1c1c" stroke="#111" stroke-width="0.6"/>
<rect x="121.2" y="370.6" width="7.6" height="7.4" fill="#999" stroke="#4a4a4a" stroke-width="1"/>
<text x="136.4" y="367.2" font-size="12.2" fill="#222" textLength="59.7" lengthAdjust="spacingAndGlyphs" style="stroke-width:0.1px">IL-18R&#945; low</text>
<text x="136.4" y="378.6" font-size="12.2" fill="#222" textLength="63.6" lengthAdjust="spacingAndGlyphs" style="stroke-width:0.1px">IL-18R&#945; high</text>
<text x="49.6" y="462.6" font-size="13.2" transform="rotate(-90 49.6 462.6)" style="stroke-width:0.15px" fill="#111" textLength="101.5" lengthAdjust="spacingAndGlyphs">Relative miR-155</text>
<text x="85.6" y="480.3" font-size="13.5" fill="#111" textLength="29.7" lengthAdjust="spacingAndGlyphs" style="stroke-width:0.1px">none</text>
<text x="139.7" y="488.1" font-size="13" fill="#111" textLength="70.1" lengthAdjust="spacingAndGlyphs" style="stroke-width:0.12px">IL-12 + IL18</text>
<path d="M136.4,464.6 C137.5,469.5 139,470.8 143,470.8 L200.5,470.8 C204.5,470.8 206,469.5 206.8,464.6" fill="none" stroke="#111" stroke-width="1.4"/>
<path d="M134,466.6 L136.4,463.4 L139,466" fill="none" stroke="#111" stroke-width="1.3"/>
<path d="M204.3,466 L206.8,463.4 L209.2,466.6" fill="none" stroke="#111" stroke-width="1.3"/>
<text x="265.1" y="343.6" font-size="17.3" font-weight="bold" fill="#000" textLength="10.9" lengthAdjust="spacingAndGlyphs" style="stroke-width:0.1px">D</text>
<line x1="358.8" y1="363.6" x2="358.8" y2="459.8" stroke="#111" stroke-width="1.6" />
<line x1="358" y1="459.8" x2="503" y2="459.8" stroke="#111" stroke-width="1.6" />
<line x1="357" y1="363.6" x2="358.8" y2="363.6" stroke="#111" stroke-width="1.2" />
<line x1="357" y1="387.6" x2="358.8" y2="387.6" stroke="#111" stroke-width="1.2" />
<line x1="357" y1="411.6" x2="358.8" y2="411.6" stroke="#111" stroke-width="1.2" />
<line x1="357" y1="435.6" x2="358.8" y2="435.6" stroke="#111" stroke-width="1.2" />
<line x1="357" y1="459.8" x2="358.8" y2="459.8" stroke="#111" stroke-width="1.2" />
<line x1="406.4" y1="459.8" x2="406.4" y2="462" stroke="#111" stroke-width="1" />
<line x1="454.2" y1="459.8" x2="454.2" y2="462" stroke="#111" stroke-width="1" />
<line x1="502.7" y1="459.8" x2="502.7" y2="462" stroke="#111" stroke-width="1" />
<text x="354.7" y="369.5" font-size="12.2" text-anchor="end" fill="#111" textLength="13.4" lengthAdjust="spacingAndGlyphs" >40</text>
<text x="354.7" y="393.4" font-size="12.2" text-anchor="end" fill="#111" textLength="13.4" lengthAdjust="spacingAndGlyphs" >30</text>
<text x="354.7" y="417.9" font-size="12.2" text-anchor="end" fill="#111" textLength="13.4" lengthAdjust="spacingAndGlyphs" >20</text>
<text x="354.7" y="441.1" font-size="12.2" text-anchor="end" fill="#111" textLength="13.4" lengthAdjust="spacingAndGlyphs" >10</text>
<text x="354.7" y="461.5" font-size="12.2" text-anchor="end" fill="#111" textLength="6.7" lengthAdjust="spacingAndGlyphs" >0</text>
<rect x="421" y="456.4" width="19" height="3.4" fill="#262626" stroke="#111" stroke-width="0.8"/>
<rect x="468.6" y="384.2" width="19.6" height="75.6" fill="#bdbdbd" stroke="#858585" stroke-width="1"/>
<line x1="477.4" y1="381.5" x2="479.6" y2="381.5" stroke="#222" stroke-width="1.4" />
<rect x="407.4" y="354.9" width="7.8" height="7.5" fill="#1c1c1c" stroke="#111" stroke-width="0.6"/>
<rect x="407.7" y="367.1" width="7.2" height="7.2" fill="#999" stroke="#4a4a4a" stroke-width="1"/>
<text x="424.2" y="363" font-size="12.2" fill="#222" textLength="57.7" lengthAdjust="spacingAndGlyphs" style="stroke-width:0.1px">IL-18R&#945; low</text>
<text x="424.2" y="375" font-size="12.2" fill="#222" textLength="64" lengthAdjust="spacingAndGlyphs" style="stroke-width:0.1px">IL-18R&#945; high</text>
<text x="316.4" y="458" font-size="13" transform="rotate(-90 316.4 458)" style="stroke-width:0.15px" fill="#111" textLength="78.3" lengthAdjust="spacingAndGlyphs">Relative IFN-&#947;</text>
<text x="331.9" y="458" font-size="13" fill="#111" transform="rotate(-90 331.9 458)" textLength="69.6" lengthAdjust="spacingAndGlyphs">mRNA(x10<tspan font-size="8" dy="-5">3</tspan><tspan dy="5">)</tspan></text>
<text x="378.1" y="481.9" font-size="13.5" fill="#111" textLength="29.4" lengthAdjust="spacingAndGlyphs" style="stroke-width:0.1px">none</text>
<text x="428.8" y="489.6" font-size="13" fill="#111" textLength="70.9" lengthAdjust="spacingAndGlyphs" style="stroke-width:0.12px">IL-12 + IL18</text>
<path d="M423.1,465.8 C424,470.8 425.5,472.3 429.5,472.3 L488,472.3 C492,472.3 493.5,470.8 494.3,465.8" fill="none" stroke="#111" stroke-width="1.4"/>
<path d="M420.7,467.8 L423.1,464.6 L425.7,467.2" fill="none" stroke="#111" stroke-width="1.3"/>
<path d="M491.8,467.2 L494.3,464.6 L496.8,467.8" fill="none" stroke="#111" stroke-width="1.3"/>
</svg>
</body></html>
